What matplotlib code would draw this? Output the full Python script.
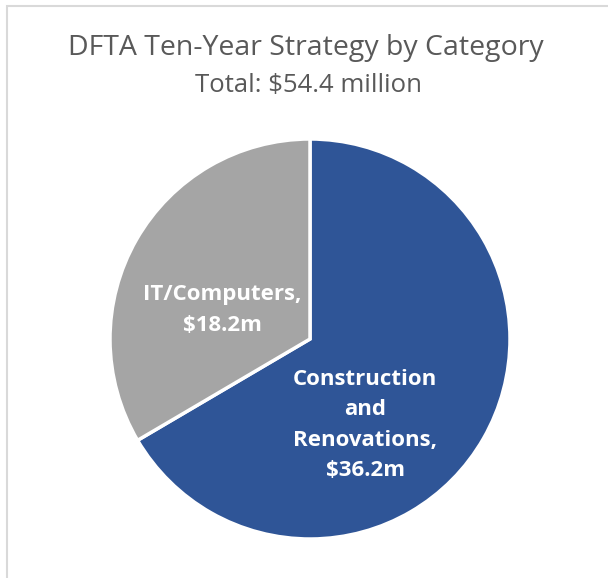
import matplotlib.pyplot as plt
from matplotlib.patches import Rectangle

categories = ["Construction\nand\nRenovations,\n$36.2m", "IT/Computers,\n$18.2m"]
values = [36.2, 18.2]
colors = ["#2F5597", "#A5A5A5"]

fig = plt.figure(figsize=(6.08, 5.78), dpi=100)
fig.patch.set_facecolor("white")

# chart area border (only left and top visible in the crop)
fig.patches.append(Rectangle((6.5 / 608, -0.1), 1.2, 1.1 - 6.5 / 578,
                             transform=fig.transFigure, fill=False,
                             edgecolor="#D9D9D9", linewidth=1.5))

fig.text(0.503, 1 - 48 / 578, "DFTA Ten-Year Strategy by Category",
         ha="center", va="center", fontsize=20.5, color="#595959", family="Open Sans")
fig.text(0.508, 1 - 85 / 578, "Total: $54.4 million",
         ha="center", va="center", fontsize=18.5, color="#595959", family="Open Sans")

ax = fig.add_axes([(310 - 200) / 608, 1 - (339 + 200) / 578, 400 / 608, 400 / 578])
wedges, _ = ax.pie(values, colors=colors, startangle=90, counterclock=False,
                   wedgeprops=dict(edgecolor="white", linewidth=2.5))
ax.set_xlim(-1.0, 1.0)
ax.set_ylim(-1.0, 1.0)
ax.set_aspect("equal")

ax.text(0.275, -0.43, categories[0], ha="center", va="center", color="white",
        fontsize=16, fontweight="bold", family="Open Sans", linespacing=1.6)
ax.text(-0.44, 0.145, categories[1], ha="center", va="center", color="white",
        fontsize=16, fontweight="bold", family="Open Sans", linespacing=1.6)

fig.savefig("out.png", dpi=100)
